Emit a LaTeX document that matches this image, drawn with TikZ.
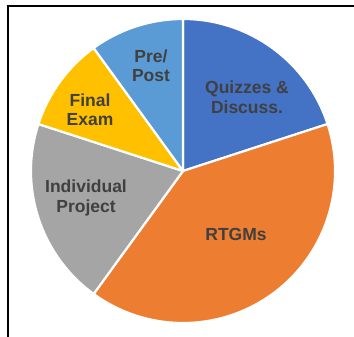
\documentclass[tikz,border=0pt]{standalone}
\usepackage{fontspec}
\setmainfont{Liberation Sans}
\usepackage{xcolor}
\usepackage{tikz}

\definecolor{quizblue}{HTML}{4472C4}
\definecolor{rtgmorange}{HTML}{ED7D31}
\definecolor{projgray}{HTML}{A5A5A5}
\definecolor{examgold}{HTML}{FFC000}
\definecolor{prelight}{HTML}{5B9BD5}
\definecolor{labelgray}{HTML}{404040}

\tikzset{
	slice/.style={draw=white, line width=2.2pt, line join=round},
	label/.style={align=center, text=labelgray, font=\fontsize{17.5}{19.5}\selectfont\bfseries},
}

\begin{document}
\begin{tikzpicture}[x=1pt, y=1pt]
		\useasboundingbox (0,0) rectangle (354,337);
		% frame: only top and left edges show
		\draw[line width=1.6pt] (354,331) -- (8,331) -- (8,0);

		\coordinate (c) at (183,166);

		\filldraw[slice, fill=quizblue] (c) -- ++(90:152) arc[start angle=90, end angle=18, radius=152] -- cycle;
		\filldraw[slice, fill=rtgmorange] (c) -- ++(18:152) arc[start angle=18, end angle=-126, radius=152] -- cycle;
		\filldraw[slice, fill=projgray] (c) -- ++(-126:152) arc[start angle=-126, end angle=-198, radius=152] -- cycle;
		\filldraw[slice, fill=examgold] (c) -- ++(162:152) arc[start angle=162, end angle=126, radius=152] -- cycle;
		\filldraw[slice, fill=prelight] (c) -- ++(126:152) arc[start angle=126, end angle=90, radius=152] -- cycle;

		\node[label] (quiz) at (247,240) {Quizzes \&\\Discuss.};
		\node[label] (rtgm) at (236,103) {RTGMs};
		\node[label] (indiv) at (86,139) {Individual\\Project};
		\node[label] (final) at (90,227) {Final\\Exam};
		\node[label] (prepost) at (151,271) {Pre/\\Post};
	\end{tikzpicture}
\end{document}
